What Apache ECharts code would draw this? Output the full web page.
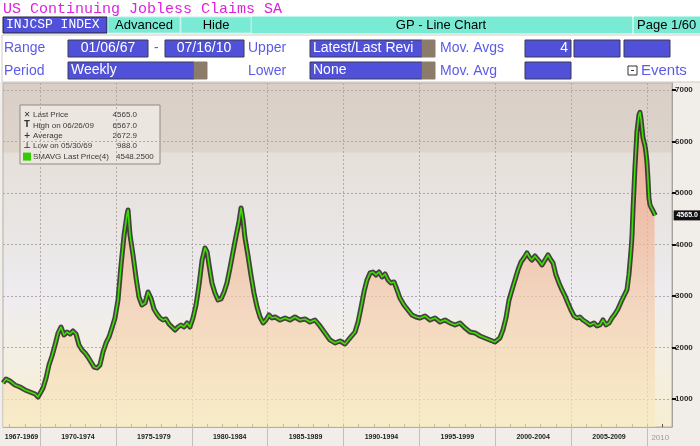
<!DOCTYPE html>
<html><head><meta charset="utf-8">
<script src="https://cdn.jsdelivr.net/npm/echarts@6/dist/echarts.min.js"></script>
<style>html,body{margin:0;padding:0;background:#fff}#c{width:700px;height:446px}</style>
</head><body><div id="c"></div>
<script>
// ---- data ----
const years = [
1967.56,1967.76,1968.02,1968.35,1968.68,1969.01,1969.34,1969.67,1969.87,1970.00,
1970.20,1970.40,1970.59,1970.79,1970.99,1971.19,1971.38,1971.58,1971.78,1971.98,
1972.17,1972.37,1972.57,1972.77,1972.97,1973.16,1973.36,1973.56,1973.76,1973.95,
1974.15,1974.35,1974.55,1974.74,1974.94,1975.14,1975.34,1975.54,1975.73,1975.80,
1975.93,1976.13,1976.33,1976.52,1976.72,1976.92,1977.12,1977.31,1977.51,1977.71,
1977.91,1978.11,1978.30,1978.50,1978.70,1978.90,1979.09,1979.29,1979.49,1979.69,
1979.88,1980.08,1980.28,1980.48,1980.68,1980.87,1981.01,1981.14,1981.33,1981.53,
1981.73,1981.93,1982.13,1982.32,1982.52,1982.72,1982.92,1983.11,1983.25,1983.38,
1983.51,1983.71,1983.90,1984.10,1984.30,1984.50,1984.70,1984.89,1985.09,1985.29,
1985.49,1985.82,1986.15,1986.47,1986.80,1987.13,1987.46,1987.79,1988.12,1988.45,
1988.78,1989.11,1989.44,1989.77,1990.10,1990.43,1990.76,1990.96,1991.15,1991.35,
1991.55,1991.75,1991.94,1992.14,1992.34,1992.54,1992.74,1992.93,1993.13,1993.33,
1993.53,1993.72,1993.99,1994.25,1994.51,1994.78,1995.04,1995.37,1995.70,1996.03,
1996.36,1996.69,1997.02,1997.35,1997.68,1998.01,1998.34,1998.67,1999.00,1999.32,
1999.65,1999.98,2000.31,2000.51,2000.71,2000.91,2001.10,2001.30,2001.50,2001.70,
2001.89,2002.09,2002.29,2002.42,2002.62,2002.75,2002.95,2003.08,2003.28,2003.48,
2003.67,2003.81,2004.00,2004.20,2004.40,2004.60,2004.79,2004.99,2005.19,2005.39,
2005.58,2005.78,2005.98,2006.24,2006.51,2006.71,2006.90,2007.10,2007.30,2007.50,
2007.69,2007.89,2008.09,2008.29,2008.48,2008.68,2008.81,2008.95,2009.01,2009.08,
2009.21,2009.34,2009.47,2009.54,2009.60,2009.67,2009.74,2009.87,2009.93,2010.00,
2010.07,2010.13,2010.20,2010.33,2010.40,2010.46,2010.50,2010.54
];
const claims = [
1311,1388,1350,1272,1233,1175,1136,1097,1039,1058,
1214,1408,1660,1835,2049,2282,2398,2243,2301,2262,
2320,2262,2049,1952,1893,1816,1719,1621,1602,1660,
1913,2088,2204,2379,2573,2923,3602,4185,4573,4670,
4185,3796,3350,2981,2825,2864,3078,2961,2748,2651,
2573,2534,2554,2457,2398,2340,2398,2437,2398,2476,
2398,2573,2825,3214,3699,3932,3855,3602,3253,3059,
2923,2942,3078,3253,3544,3855,4165,4437,4709,4476,
4126,3777,3408,3059,2787,2592,2476,2534,2631,2573,
2592,2534,2573,2534,2592,2534,2554,2495,2534,2418,
2282,2146,2088,2126,2068,2185,2301,2495,2767,3078,
3311,3447,3466,3408,3466,3369,3428,3311,3253,3272,
3117,2961,2825,2728,2631,2592,2573,2612,2534,2573,
2495,2534,2476,2437,2476,2379,2301,2282,2223,2185,
2146,2107,2185,2340,2573,2923,3117,3311,3505,3660,
3738,3835,3738,3699,3777,3758,3660,3602,3699,3796,
3699,3641,3408,3253,3117,3000,2864,2728,2612,2573,
2592,2534,2495,2437,2476,2418,2437,2534,2437,2476,
2573,2651,2748,2884,3000,3117,3408,3893,4146,4670,
5505,6185,6515,6567,6457,6263,6069,5913,5797,5602,
5253,4903,4767,4690,4670,4728,4593,4565
];
const yTickValues = [1000,2000,3000,4000,5000,6000,7000];
const yearTickValues = [1968,1969,1970,1971,1972,1973,1974,1975,1976,1977,1978,1979,1980,1981,1982,1983,1984,1985,1986,1987,1988,1989,1990,1991,1992,1993,1994,1995,1996,1997,1998,1999,2000,2001,2002,2003,2004,2005,2006,2007,2008,2009,2010,2011];
const periodBounds = [1970,1975,1980,1985,1990,1995,2000,2005,2010];
const periodLabels = ['1967-1969','1970-1974','1975-1979','1980-1984','1985-1989','1990-1994','1995-1999','2000-2004','2005-2009','2010'];
const periodCenters = [1968.78,1972.5,1977.5,1982.5,1987.5,1992.5,1997.5,2002.5,2007.5,2010.88];
const legendNames = ['Last Price','High on 06/26/09','Average','Low on 05/30/69','SMAVG Last Price(4)'];
const legendValues = ['4565.0','6567.0','2672.9','988.0','4548.2500'];
const lastPrice = 4565.0;

// ---- chart ----
const chart = echarts.init(document.getElementById('c'), null, {renderer:'canvas'});
const teal = '#79ebd5', blue = '#5050d8', lbl = '#5b5be8', brown = '#8c7b6b';
const SANS = 'Liberation Sans';
function box(x,y,w,h,fill,stroke){return {type:'rect',shape:{x:x,y:y,width:w,height:h},style:{fill:fill,stroke:stroke||'#3a3a55',lineWidth:1},silent:true};}
function txt(x,y,t,o){o=o||{};return {type:'text',x:x,y:y,style:{text:t,fill:o.fill||'#000',font:(o.weight||'normal')+' '+(o.size||14)+'px '+(o.family||SANS),textAlign:o.align||'left',textVerticalAlign:'middle'},silent:true};}

const graphics = [
  {type:'rect',shape:{x:0,y:82,width:700,height:364},style:{fill:'#f1eee9'},z:-10,silent:true},
  txt(3,9,'US Continuing Jobless Claims SA',{fill:'#dd22dd',size:15,family:'Liberation Mono'}),
  box(3,17,104,16,blue,'#222'), txt(6,25,'INJCSP INDEX',{fill:'#fff',size:13,family:'Liberation Mono'}),
  box(108,17,72,16,teal,'#bfeee4'), txt(144,25,'Advanced',{size:13,align:'center'}),
  box(181,17,70,16,teal,'#bfeee4'), txt(216,25,'Hide',{size:13,align:'center'}),
  box(252,17,380,16,teal,teal), txt(441,25,'GP - Line Chart',{size:13,align:'center'}),
  box(634,17,70,16,teal,teal), txt(637,25,'Page 1/60',{size:13}),
  {type:'rect',shape:{x:2,y:35,width:700,height:47},style:{fill:'#fff',stroke:'#cfcac4',lineWidth:1},silent:true},
  txt(4,48,'Range',{fill:lbl}),
  box(68,40,80,17,blue), txt(108,48.5,'01/06/67',{fill:'#fff',align:'center'}),
  txt(154,48,'-',{fill:lbl}),
  box(165,40,79,17,blue), txt(204,48.5,'07/16/10',{fill:'#fff',align:'center'}),
  txt(248,48,'Upper',{fill:lbl}),
  box(310,40,112,17,blue), box(422,40,13,17,brown,brown), txt(313,48.5,'Latest/Last Revi',{fill:'#fff'}),
  txt(440,48,'Mov. Avgs',{fill:lbl}),
  box(525,40,46,17,blue), txt(568,48.5,'4',{fill:'#fff',align:'right'}),
  box(574,40,46,17,blue), box(624,40,46,17,blue),
  txt(4,71,'Period',{fill:lbl}),
  box(68,62,126,17,blue), box(194,62,13,17,brown,brown), txt(71,70.5,'Weekly',{fill:'#fff'}),
  txt(248,71,'Lower',{fill:lbl}),
  box(310,62,112,17,blue), box(422,62,13,17,brown,brown), txt(313,70.5,'None',{fill:'#fff'}),
  txt(440,71,'Mov. Avg',{fill:lbl}),
  box(525,62,46,17,blue),
  {type:'rect',shape:{x:628,y:66,width:9,height:9},style:{fill:'#fff',stroke:'#333',lineWidth:1},silent:true},
  {type:'rect',shape:{x:631,y:70,width:3,height:1},style:{fill:'#333'},silent:true},
  txt(641,71,'Events',{fill:lbl,size:15})
];
// legend box
const lg = {type:'group',x:20,y:105,children:[
  {type:'rect',shape:{x:0,y:0,width:140,height:59},style:{fill:'#ebe6df',stroke:'#8f8a84',lineWidth:1}}
]};
const icons = ['✕','T','+','⊥',null];
const LF = '8px '+SANS;
legendNames.forEach((n,i)=>{
  const cy = 10 + i*10.4;
  if (icons[i]) lg.children.push({type:'text',x:7,y:cy,style:{text:icons[i],fill:'#333',font:'bold 8px DejaVu Sans',textAlign:'center',textVerticalAlign:'middle'}});
  else lg.children.push({type:'rect',shape:{x:3,y:cy-4,width:8,height:8},style:{fill:'#33cc00'}});
  lg.children.push({type:'text',x:13,y:cy,style:{text:n,fill:'#3a3a3a',font:LF,textVerticalAlign:'middle'}});
  const v = legendValues[i];
  if (i<4) lg.children.push({type:'text',x:117,y:cy,style:{text:v,fill:'#3a3a3a',font:LF,textAlign:'right',textVerticalAlign:'middle'}});
  else lg.children.push({type:'text',x:96,y:cy,style:{text:v,fill:'#3a3a3a',font:LF,textVerticalAlign:'middle'}});
});
graphics.push(lg);

const pts = years.map((y,i)=>[y, claims[i]]);
const xMin = 1967.56, xMax = 2011.65;
const dash = {type:[2,2],color:'#b4aaa3',width:1};

chart.setOption({
  animation:false,
  backgroundColor:'#fff',
  graphic: graphics,
  grid:{left:3,right:28,top:83,bottom:19,show:true,borderColor:'#b5aea8',borderWidth:1,
    backgroundColor:new echarts.graphic.LinearGradient(0,0,0,1,[
      {offset:0,color:'#d9cfc6'},{offset:0.2,color:'#ddd4cc'},{offset:0.206,color:'#e6e0da'},
      {offset:0.45,color:'#e9e6e5'},{offset:0.62,color:'#eeecf0'},{offset:0.78,color:'#f3efe4'},{offset:1,color:'#f7eed2'}])},
  xAxis:[
    {type:'value',min:xMin,max:xMax,position:'bottom',
     axisLine:{show:true,lineStyle:{color:'#b5aea8'}},
     axisTick:{show:true,inside:true,length:3,customValues:yearTickValues,lineStyle:{color:'#555',width:1}},
     axisLabel:{show:false},splitLine:{show:false}},
    {type:'value',min:xMin,max:xMax,position:'bottom',
     axisLine:{show:false},
     axisTick:{show:true,inside:false,length:19,customValues:periodBounds,lineStyle:{color:'#c4beb8',width:1}},
     axisLabel:{show:true,customValues:periodCenters,margin:7,fontSize:7,fontWeight:'bold',color:'#222',fontFamily:SANS,
       formatter:(v)=>{const i=periodCenters.findIndex(c=>Math.abs(c-v)<0.01);if(i<0)return '';return i===periodLabels.length-1?'{g|'+periodLabels[i]+'}':periodLabels[i];},
       rich:{g:{color:'#9a9a9a',fontSize:8,fontWeight:'normal',fontFamily:SANS}}},
     splitLine:{show:true,lineStyle:dash}}
  ],
  yAxis:{type:'value',position:'right',min:456,max:7136,
    axisLine:{show:true,lineStyle:{color:'#a8a29c'}},
    axisTick:{show:true,inside:false,length:4,customValues:yTickValues,lineStyle:{color:'#111',width:2}},
    axisLabel:{show:true,customValues:yTickValues,margin:3,fontSize:8,fontWeight:'bold',color:'#2a2a2a',fontFamily:SANS,
      formatter:(v)=>String(Math.round(v))},
    splitLine:{show:true,lineStyle:dash}},
  series:[
    {type:'line',data:pts,symbol:'none',xAxisIndex:0,
     lineStyle:{color:'rgba(25,25,25,0.8)',width:5,join:'round'},
     areaStyle:{origin:'start',color:new echarts.graphic.LinearGradient(0,0,0,1,[
       {offset:0,color:'#ee967f'},{offset:0.3,color:'#f1ad92'},{offset:0.55,color:'#f4c7a6'},{offset:0.8,color:'#f7dcb6'},{offset:1,color:'#f8ebc4'}])},
     z:2},
    {type:'line',data:pts,symbol:'none',xAxisIndex:0,
     lineStyle:{color:'#3fdc00',width:1.6,join:'round'},z:3,
     markPoint:{symbol:'rect',symbolSize:[27,10],symbolOffset:[32,0],silent:true,
       itemStyle:{color:'#111'},
       label:{show:true,color:'#fff',fontSize:7,fontWeight:'bold',fontFamily:SANS,formatter:lastPrice.toFixed(1)},
       data:[{coord:[years[years.length-1],claims[claims.length-1]]}]}}
  ]
});
</script></body></html>
